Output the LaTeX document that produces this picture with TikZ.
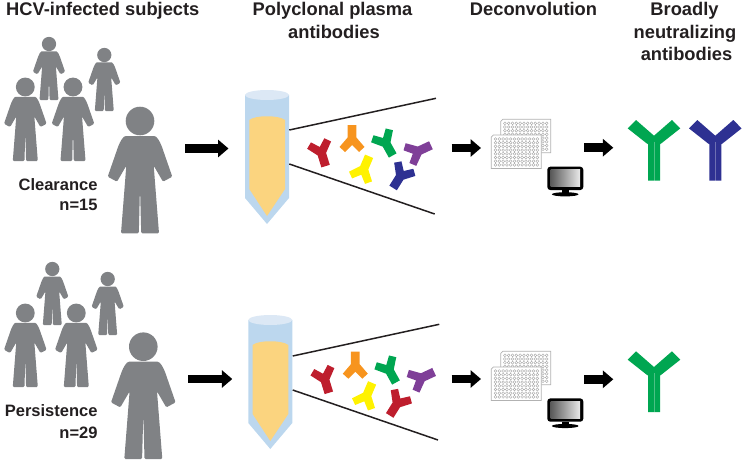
\documentclass[tikz,border=0pt]{standalone}
\usepackage{fontspec}
\setmainfont{Liberation Sans}
\usetikzlibrary{arrows.meta}
\definecolor{pgray}{HTML}{808285}
\definecolor{txt}{HTML}{231F20}
\definecolor{tubeb}{HTML}{BCD7EE}
\definecolor{tubel}{HTML}{DCE8F5}
\definecolor{tubey}{HTML}{FBD47F}
\definecolor{abred}{HTML}{BE1E2D}
\definecolor{aborange}{HTML}{F7941E}
\definecolor{abgreen}{HTML}{00A651}
\definecolor{abpurple}{HTML}{7F3F98}
\definecolor{abyellow}{HTML}{FFF200}
\definecolor{abblue}{HTML}{2E3192}
\tikzset{
  head/.style={font=\fontsize{18.3}{20}\selectfont\bfseries,text=txt,inner sep=0pt,anchor=base},
  grouplab/.style={font=\fontsize{16.5}{18}\selectfont\bfseries,text=txt,inner sep=0pt,anchor=base east},
  zoomline/.style={draw=txt,line width=1.5pt},
  blockarrow/.style={line width=8.6pt,black,-{Triangle[length=10.5pt,width=17.2pt]}},
}
\newcommand{\hperson}[3]{%
  \begin{scope}[shift={(#1,#2)},scale=#3]
    \fill[pgray] (0,0) circle (14.3);
    \fill[pgray,rounded corners=1.2pt] (0,15) -- (13,15) .. controls (17,15) and (20,21) .. (22,26)
      -- (32.3,55.7) -- (23,60.7) -- (13.7,44.7) -- (19,112.3) -- (1.2,112.3) -- (0,65.7)
      -- (-1.2,112.3) -- (-19,112.3) -- (-13.7,44.7) -- (-23,60.7) -- (-32.3,55.7)
      -- (-22,26) .. controls (-20,21) and (-17,15) .. (-13,15) -- cycle;
  \end{scope}}
\newcommand{\smallab}[4]{%
  \fill[#4,shift={(#1,#2)},rotate=#3] (0,0) -- (7,-7) -- (12.5,-2) -- (4.4,7.5) -- (4.4,20)
    -- (-4.4,20) -- (-4.4,7.5) -- (-12.5,-2) -- (-7,-7) -- cycle;}
\newcommand{\bigab}[3]{%
  \begin{scope}[shift={(#1,#2)}]
    \fill[#3] (0,0) -- (18,-15.7) -- (26.3,-7.3) -- (7.3,7.7) -- (6,8.5) -- (6,45) -- (-6,45) -- (-6,8.5)
      -- (-7.3,7.7) -- (-26.3,-7.3) -- (-18,-15.7) -- cycle;
    \draw[white,opacity=.3,line width=.5pt] (0,6) -- (0,45);
  \end{scope}}
\newcommand{\tube}[2]{%
  \begin{scope}[shift={(#1,#2)}]
    \fill[tubeb] (245,95) -- (289,95) -- (289,198) -- (267,224) -- (245,198) -- cycle;
    \fill[tubel] (267,95) ellipse (22 and 5);
    \fill[tubey] (249.3,120) .. controls (255,115) and (279,115) .. (285,120) -- (285,189) -- (267,216) -- (249.3,189) -- cycle;
  \end{scope}}
\newcommand{\plate}[2]{%
  \begin{scope}[shift={(#1,#2)}]
    \fill[white] (2,0) -- (50,0) -- (50,33.4) -- (0,33.4) -- (0,2) -- cycle;
    \foreach \i in {0,...,11}{\foreach \j in {0,...,7}{
      \draw[gray!75,line width=.35pt] (4.2+3.8*\i,4+3.7*\j) circle (1.45);}}
    \draw[black!30,line width=.7pt] (2,0) -- (50,0) -- (50,33.4) -- (0,33.4) -- (0,2) -- cycle;
  \end{scope}}
\newcommand{\screen}[2]{%
  \begin{scope}[shift={(#1,#2)}]
    \fill[black,rounded corners=3pt] (547.3,166.7) rectangle (583.3,190);
    \shade[left color=black!65,right color=black!8] (550.5,169.7) rectangle (580.2,186.7);
    \fill[black] (562,190) rectangle (568.5,193);
    \fill[black] (565.2,194.3) ellipse (13.3 and 2.1);
  \end{scope}}
\begin{document}
\begin{tikzpicture}[x=1pt,y=-1pt]
\useasboundingbox (0,0) rectangle (742,460);
% headings
\node[head,anchor=base west] (h1) at (6,16) {HCV-infected subjects};
\node[head] (h2a) at (332.5,16) {Polyclonal plasma};
\node[head] (h2b) at (334,38.3) {antibodies};
\node[head] (h3) at (533.5,16) {Deconvolution};
\node[head] (h4a) at (684.5,16) {Broadly};
\node[head] (h4b) at (685,38.3) {neutralizing};
\node[head] (h4c) at (686.5,61) {antibodies};
% people top
\hperson{49}{44}{.5}
\hperson{104.3}{55}{.5}
\hperson{25.3}{87}{.66}
\hperson{73}{87}{.66}
\hperson{140}{121}{1}
\node[grouplab] (l1) at (97.7,190) {Clearance};
\node[grouplab] (l2) at (97.7,210.7) {n=15};
% people bottom
\hperson{52.3}{269}{.5}
\hperson{107.7}{279}{.5}
\hperson{25.3}{313}{.66}
\hperson{76.3}{313}{.66}
\hperson{143.3}{346.7}{1}
\node[grouplab] (l3) at (97.7,416.7) {Persistence};
\node[grouplab] (l4) at (97.7,438.3) {n=29};
% arrows
\coordinate (a1s) at (185.3,148.5); \coordinate (a1e) at (228.5,148.5);
\coordinate (a2s) at (188.3,379); \coordinate (a2e) at (232.3,379);
\coordinate (a3s) at (451.7,148); \coordinate (a3e) at (481,148);
\coordinate (a4s) at (451.7,379); \coordinate (a4e) at (481,379);
\coordinate (a5s) at (584,147.7); \coordinate (a5e) at (613.3,147.7);
\coordinate (a6s) at (584,379.3); \coordinate (a6e) at (613.3,379.3);
\draw[blockarrow] (a1s) -- (a1e);
\draw[blockarrow] (a2s) -- (a2e);
\draw[blockarrow] (a3s) -- (a3e);
\draw[blockarrow] (a4s) -- (a4e);
\draw[blockarrow] (a5s) -- (a5e);
\draw[blockarrow] (a6s) -- (a6e);
% tubes
\tube{0}{0}
\tube{3.3}{225}
% zoom lines
\coordinate (z1a) at (289.3,130); \coordinate (z1b) at (436,98.3);
\coordinate (z2a) at (289.3,164); \coordinate (z2b) at (434.7,214);
\coordinate (z3a) at (292.7,356); \coordinate (z3b) at (439.3,324.3);
\coordinate (z4a) at (292.7,390); \coordinate (z4b) at (438,440);
\draw[zoomline] (z1a) -- (z1b);
\draw[zoomline] (z2a) -- (z2b);
\draw[zoomline] (z3a) -- (z3b);
\draw[zoomline] (z4a) -- (z4b);
% small antibodies top
\smallab{319.7}{147}{17}{abred}
\smallab{352}{145}{180}{aborange}
\smallab{383}{138}{29}{abgreen}
\smallab{412.8}{153.7}{115}{abpurple}
\smallab{361.3}{174.7}{157}{abyellow}
\smallab{403.7}{171}{-32}{abblue}
% small antibodies bottom
\smallab{323}{373.7}{17}{abred}
\smallab{355.3}{371.7}{180}{aborange}
\smallab{386.3}{365}{29}{abgreen}
\smallab{416}{380.4}{115}{abpurple}
\smallab{364.3}{401.3}{157}{abyellow}
\smallab{400.3}{398.5}{-32}{abred}
% plates and screens
\plate{500.7}{119.3}
\plate{491.3}{135}
\screen{0}{0}
\plate{500.7}{351.3}
\plate{491.3}{367}
\screen{0}{231.7}
% big antibodies
\bigab{654}{135.7}{abgreen}
\bigab{715.3}{135.7}{abblue}
\bigab{654}{367}{abgreen}
\end{tikzpicture}
\end{document}
